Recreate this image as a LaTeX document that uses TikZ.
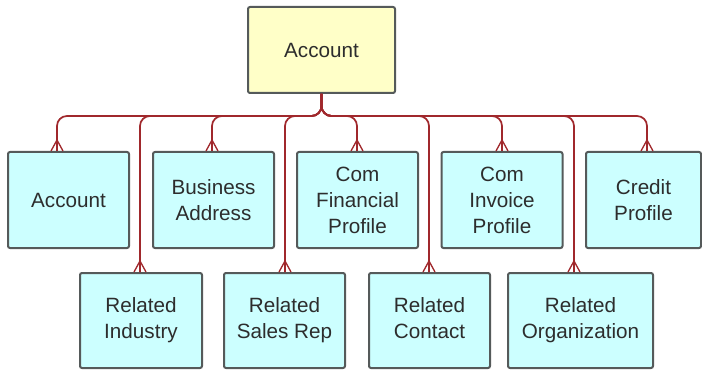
\documentclass[tikz,border=0pt]{standalone}
\usepackage{fontspec}
\setmainfont{Liberation Sans}
\definecolor{conncol}{RGB}{160,40,44}
\definecolor{boxline}{RGB}{85,90,90}
\definecolor{parentfill}{RGB}{255,255,200}
\definecolor{childfill}{RGB}{204,255,255}
\definecolor{txt}{RGB}{45,45,45}
\tikzset{
  ebox/.style={draw=boxline, line width=1.5pt, rounded corners=1.5pt, fill=childfill,
    align=center, text=txt, inner sep=0pt,
    font=\fontsize{15.5}{19.5}\selectfont},
  pbox/.style={ebox, fill=parentfill},
  conn/.style={draw=conncol, line width=1.3pt, rounded corners=7.5pt},
  crowline/.style={draw=conncol, line width=1pt}
}
\begin{document}
\begin{tikzpicture}[x=0.75pt,y=-0.75pt]
\useasboundingbox (0,0) rectangle (702,370);
% parent
\node[pbox, minimum width=110.25pt, minimum height=64.5pt] (top) at (321.5,50) {Account};
% top row
\node[ebox, minimum width=90.75pt, minimum height=72pt] (c1) at (68.5,200) {Account};
\node[ebox, minimum width=90.75pt, minimum height=72pt] (c2) at (213.5,200) {Business\\Address};
\node[ebox, minimum width=90.75pt, minimum height=72pt] (c3) at (357.5,200) {Com\\Financial\\Profile};
\node[ebox, minimum width=90.75pt, minimum height=72pt] (c4) at (502,200) {Com\\Invoice\\Profile};
\node[ebox, minimum width=86.25pt, minimum height=72pt] (c5) at (643.5,200) {Credit\\Profile};
% bottom row
\node[ebox, minimum width=91.5pt, minimum height=71.25pt] (d1) at (141,320.5) {Related\\Industry};
\node[ebox, minimum width=90.75pt, minimum height=71.25pt] (d2) at (284.5,320.5) {Related\\Sales Rep};
\node[ebox, minimum width=90.75pt, minimum height=71.25pt] (d3) at (429.5,320.5) {Related\\Contact\vphantom{y}};
\node[ebox, minimum width=108.75pt, minimum height=71.25pt] (d4) at (580.5,320.5) {Related\\Organization};
% connectors
\foreach \n/\x in {c1/57,c2/212,c3/357,c4/502,c5/647,d1/140,d2/285,d3/429,d4/574}{
  \draw[conn] (top.south) -- (top.south |- 0,116) -| (\n.north -| \x,0);
  \draw[crowline] (\n.north -| \x,0) ++(0,-11) -- ++(-6,11)
                  (\n.north -| \x,0) ++(0,-11) -- ++(0,11)
                  (\n.north -| \x,0) ++(0,-11) -- ++(6,11);
}
\end{tikzpicture}
\end{document}
